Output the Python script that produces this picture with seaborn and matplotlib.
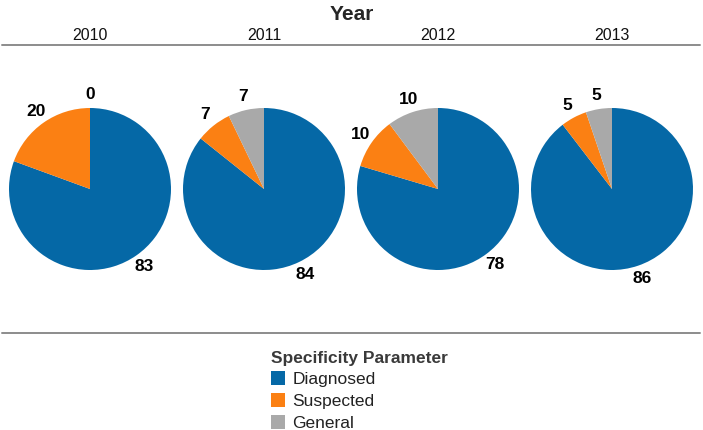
import matplotlib
matplotlib.use("Agg")
import matplotlib.pyplot as plt
from matplotlib.lines import Line2D
from matplotlib.patches import Patch
import seaborn as sns

# data
years = ["2010", "2011", "2012", "2013"]
categories = ["Diagnosed", "Suspected", "General"]
diagnosed = [83, 84, 78, 86]
suspected = [20, 7, 10, 5]
general = [0, 7, 10, 5]

sns.set_theme(style="white")
plt.rcParams["font.family"] = ["Liberation Sans Narrow", "Liberation Sans", "DejaVu Sans"]
colors = ["#0568a6", "#fb8013", "#a9a9a9"]

W, H = 703, 430
fig = plt.figure(figsize=(W / 100, H / 100), dpi=100)

# top title and the two grey rules
fig.text(0.5, 1 - 14 / H, "Year", ha="center", va="center", fontsize=15,
         fontweight="bold")
fig.add_artist(Line2D([2 / W, 700 / W], [1 - 45 / H] * 2, color="#8c8c8c", lw=1.4))
fig.add_artist(Line2D([2 / W, 700 / W], [1 - 333 / H] * 2, color="#8c8c8c", lw=1.4))

cx0, step, cy, r = 90, 174, 189, 81
for i, yr in enumerate(years):
    cx = cx0 + i * step
    half = 87
    ax = fig.add_axes([(cx - half) / W, 1 - (cy + half) / H, 2 * half / W, 2 * half / H])
    vals = [diagnosed[i], suspected[i], general[i]]
    wedges, texts = ax.pie(vals, colors=colors, startangle=90, counterclock=False,
                           labels=[str(v) for v in vals], labeldistance=1.17,
                           wedgeprops=dict(linewidth=0),
                           textprops=dict(fontsize=12.5, fontweight="bold", color="black"))
    for t in texts:
        t.set_ha("center")
        t.set_va("center")
    ax.set_xlim(-half / r, half / r)
    ax.set_ylim(-half / r, half / r)
    ax.set_aspect("equal")
    ax.axis("off")
    fig.text(cx / W, 1 - 35 / H, yr, ha="center", va="center", fontsize=11.5, color="#111111")

handles = [Patch(facecolor=c, edgecolor="none") for c in colors]
leg = fig.legend(handles, categories, title="Specificity Parameter",
                 loc="upper left", bbox_to_anchor=(262 / W, 1 - 342 / H),
                 frameon=False, fontsize=12.5, title_fontsize=12.5,
                 handlelength=0.85, handleheight=0.85, handletextpad=0.4,
                 labelspacing=0.33, borderpad=0, alignment="left")
leg.get_title().set_fontweight("bold")
leg.get_title().set_color("#3a3a3a")
for t in leg.get_texts():
    t.set_color("#222222")

fig.savefig("out.png", dpi=100)
